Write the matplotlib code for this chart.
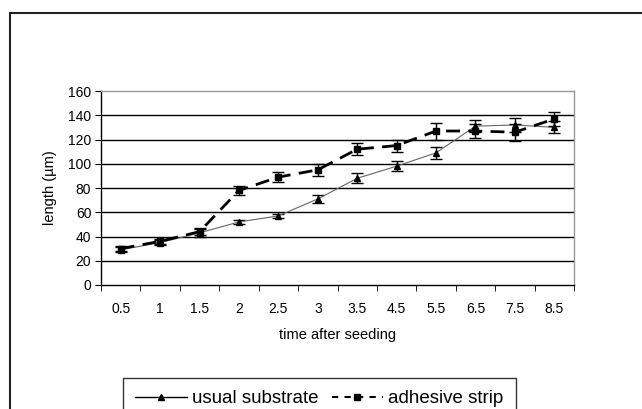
import matplotlib
matplotlib.use("Agg")
import matplotlib.pyplot as plt
from matplotlib.patches import Rectangle
from matplotlib.lines import Line2D
import numpy as np

plt.rcParams['font.family'] = ['Liberation Sans', 'DejaVu Sans']

categories = ["0.5", "1", "1.5", "2", "2.5", "3", "3.5", "4.5", "5.5", "6.5", "7.5", "8.5"]
usual = [29, 35, 43, 52, 57, 71, 88, 98, 109, 131, 132, 130]
usual_err = [2, 2, 3, 2, 1.5, 3, 4, 4, 5, 5, 6, 5]
adhesive = [30, 36, 44, 78, 89, 95, 112, 115, 127, 127, 126, 137]
adhesive_err = [2, 2, 3, 4, 4, 5, 5, 5, 7, 6, 7, 6]
yticks = [0, 20, 40, 60, 80, 100, 120, 140, 160]

W, H = 642, 409
fig = plt.figure(figsize=(W / 100, H / 100), dpi=100)

# outer chart frame (extends beyond right/bottom edges)
fig.patches.append(Rectangle((10 / W, -0.1), 1.2, 1 - 13 / H + 0.1,
                             transform=fig.transFigure, fill=False,
                             edgecolor='#222222', linewidth=1.5, zorder=0))

ax = fig.add_axes([101 / W, 1 - 285 / H, (574 - 101) / W, (285 - 91) / H])
x = np.arange(len(categories))

ax.errorbar(x, usual, yerr=usual_err, color='#666666', lw=0.8, marker='^',
            ms=5, mfc='black', mec='black', ecolor='black', elinewidth=1,
            capsize=4, capthick=1, zorder=3)
ax.errorbar(x, adhesive, yerr=adhesive_err, color='black', lw=2,
            dashes=(5, 3), marker='s', ms=5, mfc='black', mec='black',
            ecolor='black', elinewidth=1, capsize=4, capthick=1, zorder=4)

ax.set_xlim(-0.5, len(categories) - 0.5)
ax.set_ylim(0, 160)
ax.set_yticks(yticks)
ax.set_xticks(x)
ax.set_xticklabels(categories)
ax.set_xticks(np.arange(-0.5, len(categories), 1), minor=True)
ax.tick_params(axis='x', which='major', length=0, pad=12, labelsize=10)
ax.tick_params(axis='x', which='minor', length=4, direction='out', color='black')
ax.tick_params(axis='y', length=4, direction='out', labelsize=10, pad=3)

for yv in yticks[1:-1]:
    ax.axhline(yv, color='black', lw=1, zorder=1)

for s in ['top', 'right']:
    ax.spines[s].set_color('#999999')
    ax.spines[s].set_linewidth(1)
for s in ['left', 'bottom']:
    ax.spines[s].set_color('black')
    ax.spines[s].set_linewidth(1)

ax.set_xlabel('time after seeding', fontsize=10.5, labelpad=9)
ax.set_ylabel('length (\u00b5m)', fontsize=10.5, labelpad=8)

handles = [
    Line2D([], [], color='black', lw=1, marker='^', ms=4, mfc='black', mec='black'),
    Line2D([], [], color='black', lw=1.5, dashes=(3, 3), marker='s', ms=4,
           mfc='black', mec='black'),
]
labels = ['usual substrate', 'adhesive strip']
leg = fig.legend(handles=handles, labels=labels,
                 loc='upper left', bbox_to_anchor=(123 / W, 1 - 378 / H),
                 ncol=2, frameon=True, fancybox=False, fontsize=13.5,
                 handlelength=2.75, columnspacing=0.7, handletextpad=0.28,
                 borderpad=0.65, borderaxespad=0)
leg.get_frame().set_edgecolor('black')
leg.get_frame().set_linewidth(1)

fig.savefig('out.png', dpi=100)
